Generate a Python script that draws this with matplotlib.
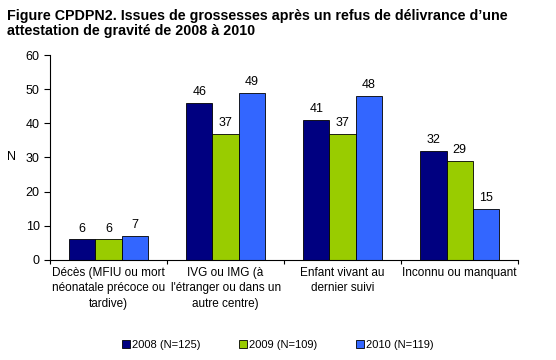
import numpy as np
import matplotlib.pyplot as plt

plt.rcParams['font.family'] = ['Liberation Sans', 'DejaVu Sans']

categories = ["Décès (MFIU ou mort\nnéonatale précoce ou\ntardive)",
              "IVG ou IMG (à\nl'étranger ou dans un\nautre centre)",
              "Enfant vivant au\ndernier suivi",
              "Inconnu ou manquant"]
series = ["2008 (N=125)", "2009 (N=109)", "2010 (N=119)"]
v2008 = [6, 46, 41, 32]
v2009 = [6, 37, 37, 29]
v2010 = [7, 49, 48, 15]
colors = ["#000080", "#99CC00", "#3366FF"]

fig = plt.figure(figsize=(5.56, 3.6), dpi=100)
ax = fig.add_axes([0.09, 0.278, 0.842, 0.569])

x = np.arange(len(categories))
w = 0.225
for i, (vals, lab, c) in enumerate(zip([v2008, v2009, v2010], series, colors)):
    pos = x + (i - 1) * w
    ax.bar(pos, vals, w, color=c, edgecolor='black', linewidth=0.6, label=lab)
    for p, v in zip(pos, vals):
        ax.text(p, v + 1.4, str(v), ha='center', va='bottom', fontsize=9)

ax.set_xlim(-0.5, len(categories) - 0.5)
ax.set_ylim(0, 60)
ax.set_yticks(range(0, 61, 10))
ax.tick_params(axis='y', labelsize=9, length=4, width=0.8)
ax.set_xticks(np.arange(-0.5, len(categories), 1))
ax.set_xticklabels([])
ax.tick_params(axis='x', length=3, width=0.8)
ax.set_xticks(x, minor=True)
ax.set_xticklabels(categories, minor=True, fontsize=8.5, linespacing=1.4)
ax.tick_params(axis='x', which='minor', length=0, pad=5)
for s in ['top', 'right']:
    ax.spines[s].set_visible(False)
ax.spines['left'].set_linewidth(0.8)
ax.spines['bottom'].set_linewidth(0.8)
ax.set_ylabel('N', rotation=0, fontsize=9, labelpad=10, va='center')

fig.text(0.012, 0.975, "Figure CPDPN2. Issues de grossesses après un refus de délivrance d\u2019une\nattestation de gravité de 2008 à 2010",
         fontsize=10.3, fontweight='bold', va='top', ha='left', linespacing=1.1)

fig.legend(loc='lower center', bbox_to_anchor=(0.5, 0.0), ncol=3, frameon=False,
           fontsize=8, handlelength=0.7, handleheight=0.7, handletextpad=0.2, columnspacing=3.5)

fig.savefig('out.png', dpi=100)
